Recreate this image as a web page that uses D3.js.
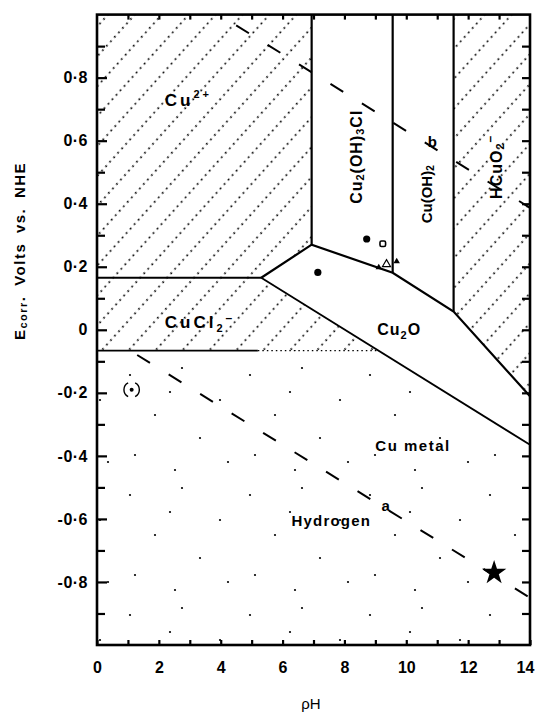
<!DOCTYPE html>
<html><head><meta charset="utf-8">
<script src="https://cdn.jsdelivr.net/npm/d3@7"></script>
<style>
html,body{margin:0;padding:0;background:#fff;}
svg text{font-family:"Liberation Sans",Arial,sans-serif;font-weight:bold;fill:#000;}
</style></head>
<body>
<svg id="chart" width="537" height="714"></svg>
<script>
// ---------- data ----------
const phMajor = [0,2,4,6,8,10,12,14];
const phAll = [0,1,2,3,4,5,6,7,8,9,10,11,12,13,14];
const eMajor = [0.8,0.6,0.4,0.2,0,-0.2,-0.4,-0.6,-0.8];
const eMajorLabels = ["0·8","0·6","0·4","0·2","0","-0·2","-0·4","-0·6","-0·8"];
const eMinor = [0.9,0.7,0.5,0.3,0.1,-0.1,-0.3,-0.5,-0.7,-0.9];
const eAll = [0.9,0.8,0.7,0.6,0.5,0.4,0.3,0.2,0.1,0,-0.1,-0.2,-0.3,-0.4,-0.5,-0.6,-0.7,-0.8,-0.9];

// boundaries (pH, E volts)
const cuClUpper = [[0,0.165],[5.31,0.165]];
const cuClLowerSolid = [[0,-0.066],[5.2,-0.066]];
const cuClLowerDotted = [[5.2,-0.066],[9.1,-0.066]];
const cu2oUpper = [[5.31,0.165],[6.94,0.27],[9.56,0.181],[11.53,0.058],[14,-0.211]];
const cu2oLower = [[5.31,0.165],[14,-0.365]];
const vertLines = [[[6.94,1],[6.94,0.27]],[[9.56,1],[9.56,0.181]],[[11.53,1],[11.53,0.058]]];
const lineA = [[1.3,-0.08],[14,-0.85]];
const lineB = [[4.5,0.966],[14,0.387]];

// regions
const regCu2 = [[0,1],[6.94,1],[6.94,0.27],[5.31,0.165],[0,0.165]];
const regCuCl2 = [[0,0.165],[5.31,0.165],[9.1,-0.066],[0,-0.066]];
const regHCuO2 = [[11.53,1],[14,1],[14,-0.211],[11.53,0.058]];
const regCuMetal = [[0,-0.066],[9.1,-0.066],[14,-0.365],[14,-1],[0,-1]];

// experimental points
const filledCircles = [[8.72,0.288],[7.14,0.182]];
const openSquares = [[9.24,0.273]];
const openTriangles = [[9.36,0.208]];
const filledTriangles = [[9.11,0.198],[9.69,0.217]];
const bracketPoints = [[1.12,-0.19]];
const starPoints = [[12.84,-0.771]];

// ---------- drawing ----------
const svg = d3.select("#chart");
const x = d3.scaleLinear().domain([0,14]).range([97,530]);
const y = d3.scaleLinear().domain([-1,1]).range([645,14.6]);
const line = d3.line().x(d=>x(d[0])).y(d=>y(d[1]));

const defs = svg.append("defs");
const hatch = defs.append("pattern").attr("id","hatch").attr("patternUnits","userSpaceOnUse")
  .attr("width",18).attr("height",20).attr("patternTransform","rotate(-48)");
[1.5,7.5,13.5].forEach(cx=>hatch.append("circle").attr("cx",cx).attr("cy",10).attr("r",1).attr("fill","#000"));
const dots = defs.append("pattern").attr("id","dots").attr("patternUnits","userSpaceOnUse")
  .attr("width",120).attr("height",120);
[[10,15],[62,8],[100,40],[35,55],[80,78],[15,95],[55,110],[108,102],[50,32]].forEach(p=>
  dots.append("circle").attr("cx",p[0]).attr("cy",p[1]).attr("r",1.1).attr("fill","#000"));

[regCu2,regCuCl2,regHCuO2].forEach(r=>svg.append("path").attr("d",line(r)+"Z").attr("fill","url(#hatch)"));
svg.append("path").attr("d",line(regCuMetal)+"Z").attr("fill","url(#dots)");

// boundary lines
const solid = (pts,w)=>svg.append("path").attr("d",line(pts)).attr("fill","none").attr("stroke","#000").attr("stroke-width",w);
solid(cuClUpper,2);
solid(cuClLowerSolid,1.8);
svg.append("path").attr("d",line(cuClLowerDotted)).attr("fill","none").attr("stroke","#000")
  .attr("stroke-width",1.2).attr("stroke-dasharray","1.5,3");
solid(cu2oUpper,2.2);
solid(cu2oLower,1.8);
vertLines.forEach(v=>solid(v,2.2));
[lineA,lineB].forEach(l=>svg.append("path").attr("d",line(l)).attr("fill","none").attr("stroke","#000")
  .attr("stroke-width",2).attr("stroke-dasharray","15,22"));

// axes
const gl = svg.append("g").attr("transform",`translate(${x(0)},0)`)
  .call(d3.axisLeft(y).tickValues(eMajor).tickFormat((d,i)=>eMajorLabels[i]).tickSize(-10).tickPadding(9));
gl.selectAll("text").style("font-size","16px").style("letter-spacing","0.5px");
svg.append("g").attr("transform",`translate(${x(0)},0)`)
  .call(d3.axisLeft(y).tickValues(eMinor).tickFormat("").tickSize(-8));
svg.append("g").attr("transform",`translate(${x(14)},0)`)
  .call(d3.axisRight(y).tickValues(eAll).tickFormat("").tickSize(-8));
svg.append("g").attr("transform",`translate(0,${y(1)})`)
  .call(d3.axisTop(x).tickValues(phAll.slice(1,14)).tickFormat("").tickSize(-5));
const gb = svg.append("g").attr("transform",`translate(0,${y(-1)})`)
  .call(d3.axisBottom(x).tickValues(phAll).tickFormat(d=>phMajor.includes(d)?d:"").tickSize(-5).tickPadding(17));
gb.selectAll("text").style("font-size","16px").attr("dx",d=>d===14?-5:0);
svg.selectAll(".domain").remove();
svg.selectAll(".tick line").attr("stroke","#000").attr("stroke-width",2.2);

svg.append("rect").attr("x",x(0)).attr("y",y(1)).attr("width",x(14)-x(0)).attr("height",y(-1)-y(1))
  .attr("fill","none").attr("stroke","#000").attr("stroke-width",2.6);

// points
filledCircles.forEach(p=>svg.append("circle").attr("cx",x(p[0])).attr("cy",y(p[1])).attr("r",3.6).attr("fill","#000"));
openSquares.forEach(p=>svg.append("rect").attr("x",x(p[0])-2.8).attr("y",y(p[1])-2.8).attr("width",5.6).attr("height",5.6)
  .attr("rx",1.5).attr("fill","#fff").attr("stroke","#000").attr("stroke-width",1.6));
const tri = d3.symbol().type(d3.symbolTriangle);
openTriangles.forEach(p=>svg.append("path").attr("d",tri.size(28)()).attr("transform",`translate(${x(p[0])},${y(p[1])})`)
  .attr("fill","#fff").attr("stroke","#000").attr("stroke-width",1.2));
filledTriangles.forEach(p=>svg.append("path").attr("d",tri.size(18)()).attr("transform",`translate(${x(p[0])},${y(p[1])})`)
  .attr("fill","#000"));
bracketPoints.forEach(p=>{
  const cx=x(p[0]), cy=y(p[1]);
  svg.append("circle").attr("cx",cx).attr("cy",cy).attr("r",2).attr("fill","#000");
  const arc = d3.arc().innerRadius(7).outerRadius(8.4);
  svg.append("path").attr("d",arc({startAngle:-Math.PI*0.85,endAngle:-Math.PI*0.15})).attr("transform",`translate(${cx},${cy})`).attr("fill","#000");
  svg.append("path").attr("d",arc({startAngle:Math.PI*0.15,endAngle:Math.PI*0.85})).attr("transform",`translate(${cx},${cy})`).attr("fill","#000");
});
starPoints.forEach(p=>svg.append("path").attr("d",d3.symbol().type(d3.symbolStar).size(185)())
  .attr("transform",`translate(${x(p[0])},${y(p[1])})`).attr("fill","#000"));

// labels
function label(px,e,parts,opts={}){
  const t = svg.append("text").attr("x",x(px)).attr("y",y(e))
    .style("font-size",(opts.size||16)+"px").style("letter-spacing",(opts.ls==null?1:opts.ls)+"px")
    .attr("text-anchor",opts.anchor||"start");
  if(opts.rotate){ t.attr("x",0).attr("y",0).attr("transform",`translate(${x(px)},${y(e)}) rotate(-90)`).attr("dominant-baseline","central"); }
  parts.forEach(pt=>{
    const s = t.append("tspan").text(pt[0]);
    if(pt[1]) s.attr("dy",pt[1]).style("font-size",(pt[2]||11)+"px");
  });
  return t;
}
label(2.19,0.71,[["Cu"],["2+","-8",11]],{size:17,ls:3});
label(2.19,0.006,[["CuCl"],["2","4",11],["–","-10",12]],{size:17,ls:3});
label(8.38,0.549,[["Cu"],["2","4",11],["(OH)","-4",16],["3","4",11],["Cl","-4",16]],{rotate:true,anchor:"middle"});
label(10.64,0.43,[["Cu(OH)"],["2","4",10]],{rotate:true,anchor:"middle",ls:0,size:15});
label(12.9,0.517,[["HCuO"],["2","4",11],["–","-10",12]],{rotate:true,anchor:"middle"});
label(10.86,0.6,[["b"]],{anchor:"middle"}).attr("dominant-baseline","central").style("font-size","15px");
label(9.77,-0.017,[["Cu"],["2","4",11],["O","-4",16]],{anchor:"middle",ls:1});
label(9.0,-0.384,[["Cu metal"]],{size:15,ls:1.5});
label(6.29,-0.621,[["Hydrogen"]],{size:15,ls:1.2});
label(9.35,-0.557,[["a"]],{anchor:"middle",size:15}).attr("dominant-baseline","central");

// axis titles
svg.append("text").attr("transform",`translate(19,251) rotate(-90)`).attr("text-anchor","middle")
  .attr("dominant-baseline","central").style("font-size","15px").style("letter-spacing","1.5px").style("word-spacing","4px")
  .call(t=>{t.append("tspan").text("E");t.append("tspan").attr("dy",4).style("font-size","11px").text("corr");
    t.append("tspan").attr("dy",-4).text(". Volts  vs.  NHE");});
svg.append("text").attr("x",311).attr("y",709).attr("text-anchor","middle").style("font-size","15px")
  .style("font-weight","normal").text("ρH");
</script>
</body></html>
